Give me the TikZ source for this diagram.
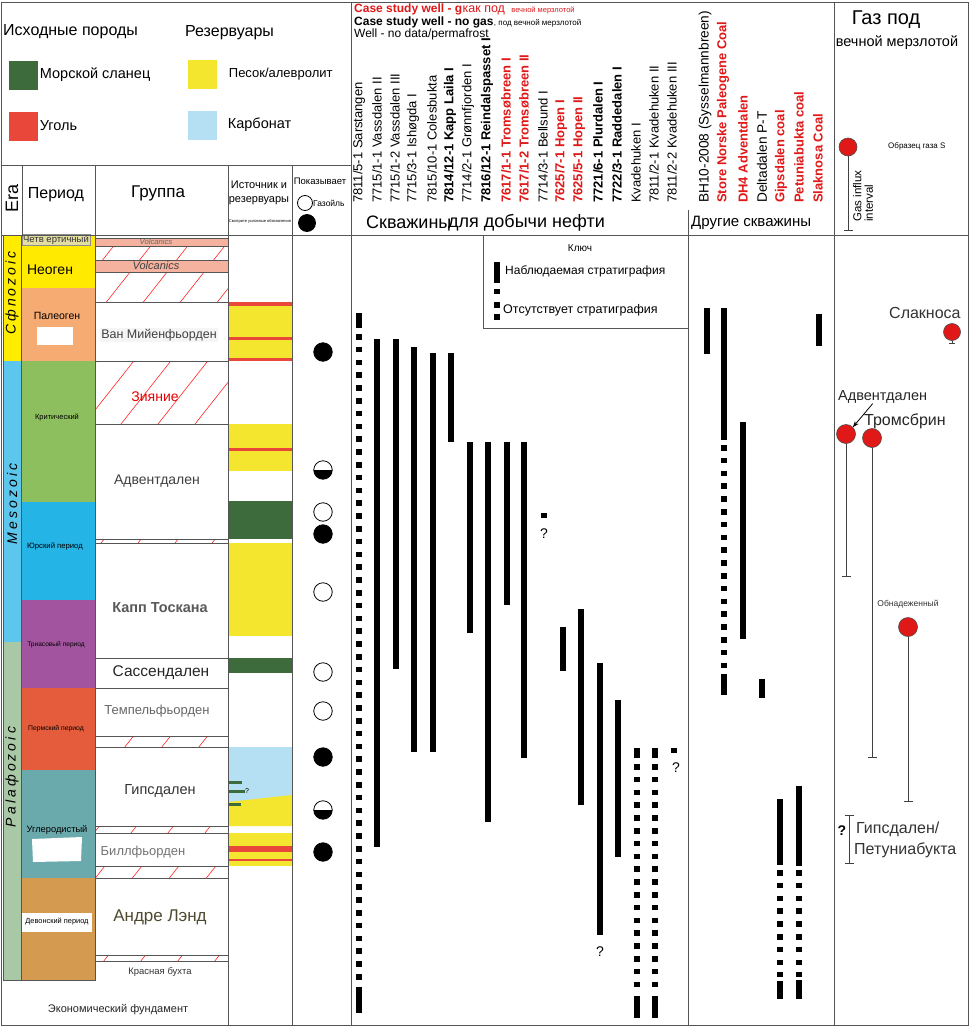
\documentclass[tikz,border=0pt]{standalone}
\usepackage{fontspec}
\setmainfont{Liberation Sans}
\newfontfamily\erafont[LetterSpace=22]{Liberation Sans}
\usetikzlibrary{positioning,arrows.meta}
\newcommand\fsz[1]{\fontsize{#1}{#1}\selectfont}
\definecolor{shale}{HTML}{3E6B3C}
\definecolor{coal}{HTML}{E8473A}
\definecolor{sand}{HTML}{F4E62E}
\definecolor{carb}{HTML}{B5DFF3}
\definecolor{gasred}{HTML}{E01818}
\definecolor{framegray}{HTML}{555555}
\definecolor{volc}{HTML}{F5B39F}
\definecolor{cenoz}{HTML}{FFEC00}
\definecolor{mesoz}{HTML}{5CC6EC}
\definecolor{palaeoz}{HTML}{A9C8A5}
\definecolor{quat}{HTML}{E3DDA2}
\definecolor{neog}{HTML}{FFEA00}
\definecolor{paleog}{HTML}{F5AB72}
\definecolor{cret}{HTML}{8DBF5E}
\definecolor{jur}{HTML}{25B4E6}
\definecolor{trias}{HTML}{A2559E}
\definecolor{perm}{HTML}{E55C3C}
\definecolor{carbon}{HTML}{6AAAAD}
\definecolor{devon}{HTML}{D49B50}
\tikzset{
frame/.style={draw=framegray,line width=0.9pt},
grpbox/.style={draw=framegray,line width=0.7pt},
hatch/.style={draw=red!85!white,line width=0.6pt},
obs/.style={line width=6pt},
nodata/.style={line width=6pt,dash pattern=on 5.5pt off 7.3pt},
lbl/.style={inner sep=0pt},
legbox/.style={minimum size=29pt,inner sep=0pt},
wname/.style={rotate=90,anchor=west,inner sep=0pt,font=\fsz{13}},
wbold/.style={wname,font=\fsz{13}\bfseries},
wcase/.style={wbold,text=gasred},
oname/.style={wname,font=\fsz{13.7}},
shows/.style={circle,draw=black,line width=0.8pt,minimum size=18.5pt,inner sep=0pt},
halfshow/.style={shows,path picture={\fill[black] (path picture bounding box.west) rectangle (path picture bounding box.south east);}},
gas/.style={circle,draw=black!70,fill=gasred,line width=0.6pt,minimum size=19pt,inner sep=0pt},
stem/.style={draw=black!75,line width=0.8pt,-{Bar[width=9pt,line width=0.8pt]}}
}
\newcommand\hatchband[2]{%
\begin{scope}
\clip (95,#1) rectangle (228,#2);
\foreach \k in {12,49,...,1200} \draw[hatch] (\k,0) -- ++(-790,1000);
\end{scope}
\draw[grpbox] (95,#1) rectangle (228,#2);}

\begin{document}
\begin{tikzpicture}[x=1pt,y=-1pt]
\useasboundingbox[fill=white] (0,0) rectangle (969,1028);

% legend
\node[lbl,anchor=west,font=\fsz{16}] (srcHead) at (3,32) {Исходные породы};
\node[lbl,anchor=west,font=\fsz{16}] (resHead) at (185,33) {Резервуары};
\node[legbox,fill=shale] (kShale) at (23,75) {};
\node[legbox,fill=coal] (kCoal) at (23,126) {};
\node[legbox,fill=sand] (kSand) at (202,74) {};
\node[legbox,fill=carb] (kCarb) at (202,125) {};
\node[lbl,font=\fsz{14.5},right=2pt of kShale] (tShale) {Морской сланец};
\node[lbl,font=\fsz{14.5},right=2pt of kCoal] (tCoal) {Уголь};
\node[lbl,font=\fsz{13},right=12pt of kSand] (tSand) {Песок/алевролит};
\node[lbl,font=\fsz{14.5},right=11pt of kCarb] (tCarb) {Карбонат};

% column heads
\node[lbl,rotate=90,font=\fsz{18}] (hEra) at (12,198) {Era};
\node[lbl,font=\fsz{16}] (hPer) at (56,195) {Период};
\node[lbl,font=\fsz{17}] (hGrp) at (158,193) {Группа};
\node[lbl,font=\fsz{11},align=center] (hSrc) at (259,193) {Источник и\\[3pt]резервуары};
\node[lbl,font=\fsz{4}] (hSrcNote) at (260,221) {Смотрите условные обозначения};
\node[lbl,font=\fsz{9.5}] (hShow) at (320,181) {Показывает};
\node[shows,minimum size=15pt] (kOil) at (305,203) {};
\node[lbl,font=\fsz{8.5},anchor=west] (tOil) at (313,203) {Газойль};
\node[shows,fill=black,minimum size=17pt] (kGas) at (307,223) {};

% era bars
\fill[cenoz] (3,235) rectangle (21,361);
\fill[mesoz] (3,361) rectangle (21,642);
\fill[palaeoz] (3,642) rectangle (21,980);
\draw[frame] (3,235) rectangle (21,980);
\node[lbl,rotate=90,font=\fsz{14}\erafont\itshape] (eCen) at (12,293) {Cфnozoic};
\node[lbl,rotate=90,font=\fsz{14}\erafont\itshape] (eMes) at (12,504) {Mesozoic};
\node[lbl,rotate=90,font=\fsz{14}\erafont\itshape] (ePal) at (12,777) {Palaфozoic};

% periods
\fill[neog] (21,235) rectangle (95,288);
\fill[paleog] (21,288) rectangle (95,361);
\fill[cret] (21,361) rectangle (95,502);
\fill[jur] (21,502) rectangle (95,600);
\fill[trias] (21,600) rectangle (95,688);
\fill[perm] (21,688) rectangle (95,770);
\fill[carbon] (21,770) rectangle (95,878);
\fill[devon] (21,878) rectangle (95,980);
\fill[white] (37,327) rectangle (73,345);
\fill[white] (32,839) -- (82,837) -- (81,861) -- (33,862) -- cycle;
\draw[frame] (21,235) rectangle (95,980);
\node[draw=black!45,fill=quat,inner sep=0pt,minimum width=68pt,minimum height=11pt,font=\fsz{9.5},text=black!80] (pQua) at (56,240) {Четв ертичный};
\node[lbl,font=\fsz{14}] (pNeo) at (50,270) {Неоген};
\node[lbl,font=\fsz{10.5}] (pPal) at (57,316) {Палеоген};
\node[lbl,font=\fsz{7.5}] (pCre) at (57,417) {Критический};
\node[lbl,font=\fsz{7.7}] (pJur) at (55,546) {Юрский период};
\node[lbl,font=\fsz{6.6}] (pTri) at (56,645) {Триасовый период};
\node[lbl,font=\fsz{6.8}] (pPer) at (56,729) {Пермский период};
\node[lbl,font=\fsz{9.3}] (pCar) at (57,830) {Углеродистый};
\node[fill=white,inner sep=0pt,minimum width=70pt,minimum height=19pt,font=\fsz{7.4}] (pDev) at (57,922) {Девонский период};

% groups
\fill[volc] (95,238) rectangle (228,246);
\draw[grpbox] (95,238) rectangle (228,246);
\hatchband{246}{260}
\fill[volc] (95,260) rectangle (228,272);
\draw[grpbox] (95,260) rectangle (228,272);
\hatchband{272}{302}
\draw[grpbox] (95,302) rectangle (228,361);
\hatchband{361}{424}
\draw[grpbox] (95,424) rectangle (228,539);
\hatchband{539}{543}
\draw[grpbox] (95,543) rectangle (228,658);
\draw[grpbox] (95,658) rectangle (228,688);
\draw[grpbox] (95,688) rectangle (228,736);
\hatchband{736}{747}
\draw[grpbox] (95,747) rectangle (228,826);
\hatchband{826}{833}
\draw[grpbox] (95,833) rectangle (228,866);
\hatchband{866}{878}
\draw[grpbox] (95,878) rectangle (228,955);
\hatchband{955}{961}
\node[lbl,font=\fsz{7.7}\itshape,text=black!60] (gVol1) at (156,242) {Volcanics};
\node[lbl,font=\fsz{11}\itshape,text=black!75] (gVol2) at (156,266) {Volcanics};
\node[fill=black!4,inner sep=1pt,font=\fsz{12.5},text=black!75] (gVan) at (159,335) {Ван Мийенфьорден};
\node[lbl,font=\fsz{14},text=red!90!black] (gGap) at (155,397) {Зияние};
\node[lbl,font=\fsz{14},text=black!75] (gAdv) at (157,481) {Адвентдален};
\node[lbl,font=\fsz{14.5}\bfseries,text=black!65] (gKap) at (160,608) {Капп Тоскана};
\node[lbl,font=\fsz{15.5},text=black!85] (gSas) at (161,673) {Сассендален};
\node[lbl,font=\fsz{13},text=black!60] (gTem) at (157,711) {Темпельфьорден};
\node[lbl,font=\fsz{14.5},text=black!80] (gGip) at (160,791) {Гипсдален};
\node[lbl,font=\fsz{13},text=black!55] (gBil) at (143,852) {Биллфьорден};
\node[lbl,font=\fsz{17},text=black!60!olive] (gAnd) at (160,917) {Андре Лэнд};
\node[lbl,font=\fsz{9.5},text=black!80] (gRed) at (160,972) {Красная бухта};
\node[lbl,font=\fsz{11},text=black!85] (gBase) at (118,1010) {Экономический фундамент};

% source and reservoir
\fill[sand] (228,302) rectangle (292,361);
\fill[coal] (228,302) rectangle (292,305.5);
\fill[coal] (228,336.5) rectangle (292,340);
\fill[coal] (228,357.5) rectangle (292,361);
\fill[sand] (228,424) rectangle (292,471);
\fill[coal] (228,447.5) rectangle (292,451);
\fill[shale] (228,501) rectangle (292,539);
\fill[sand] (228,543) rectangle (292,636);
\fill[shale] (228,658) rectangle (292,673);
\fill[carb] (228,747) rectangle (292,802);
\fill[sand] (228,802) -- (292,795) -- (292,826) -- (228,826) -- cycle;
\fill[shale] (228,780.5) rectangle (242,783.5);
\fill[shale] (228,790) rectangle (245,793);
\fill[shale] (228,802.5) rectangle (241,805.5);
\node[lbl,font=\fsz{7}] (qSrc) at (247,791) {?};
\fill[sand] (228,833) rectangle (292,866);
\fill[coal] (228,846) rectangle (292,852);
\fill[coal] (228,858.5) rectangle (292,861);

% shows
\node[shows,fill=black] (sh1) at (323,352) {};
\node[halfshow] (sh2) at (323,470) {};
\node[shows] (sh3) at (323,512) {};
\node[shows,fill=black] (sh4) at (323,534) {};
\node[shows] (sh5) at (323,592) {};
\node[shows] (sh6) at (323,672) {};
\node[shows] (sh7) at (323,711) {};
\node[shows,fill=black] (sh8) at (323,757) {};
\node[halfshow] (sh9) at (323,810) {};
\node[shows,fill=black] (sh10) at (323,852) {};

% frame
\draw[frame] (1,2) rectangle (968,1025);
\draw[frame] (1,165) -- (351,165);
\draw[frame] (1,235) -- (968,235);
\draw[frame] (22,165) -- (22,235);
\draw[frame] (95,165) -- (95,235);
\draw[frame] (228,165) -- (228,1025);
\draw[frame] (292,165) -- (292,1025);
\draw[frame] (351,2) -- (351,1025);
\draw[frame] (688,210) -- (688,1025);
\draw[frame] (834,2) -- (834,1025);

% well key
\node[lbl,anchor=west,font=\fsz{12}\bfseries,text=gasred] (lCase) at (354,9) {Case study well - g};
\node[lbl,anchor=base west,font=\fsz{12.5},text=gasred] (lCaseB) at (lCase.base east) {как под};
\node[lbl,anchor=base west,font=\fsz{7.5},text=gasred] (lCaseC) at ([xshift=6pt]lCaseB.base east) {вечной мерзлотой};
\node[lbl,anchor=west,font=\fsz{12}\bfseries] (lNoGas) at (354,22) {Case study well - no gas};
\node[lbl,anchor=base west,font=\fsz{8}] (lNoGasB) at (lNoGas.base east) {, под вечной мерзлотой};
\node[lbl,anchor=west,font=\fsz{12}] (lNoData) at (354,34) {Well - no data/permafrost};

% production wells
\node[wname] (w1) at (359,203) {7811/5-1 Sarstangen};
\node[wname] (w2) at (377,203) {7715/1-1 Vassdalen II};
\node[wname] (w3) at (395,203) {7715/1-2 Vassdalen III};
\node[wname] (w4) at (413,203) {7715/3-1 Ishøgda I};
\node[wname] (w5) at (432,203) {7815/10-1 Colesbukta};
\node[wbold] (w6) at (450,203) {7814/12-1 Kapp Laila I};
\node[wname] (w7) at (468,203) {7714/2-1 Grønnfjorden I};
\node[wbold] (w8) at (487,203) {7816/12-1 Reindalspasset I};
\node[wcase] (w9) at (506,203) {7617/1-1 Tromsøbreen I};
\node[wcase] (w10) at (524,203) {7617/1-2 Tromsøbreen II};
\node[wname] (w11) at (543,203) {7714/3-1 Bellsund I};
\node[wcase] (w12) at (561,203) {7625/7-1 Hopen I};
\node[wcase] (w13) at (579,203) {7625/5-1 Hopen II};
\node[wbold] (w14) at (598,203) {7721/6-1 Plurdalen I};
\node[wbold] (w15) at (617,203) {7722/3-1 Raddedalen I};
\node[wname] (w16) at (636,203) {Kvadehuken I};
\node[wname] (w17) at (654,203) {7811/2-1 Kvadehuken II};
\node[wname] (w18) at (672,203) {7811/2-2 Kvadehuken III};
\node[lbl,anchor=west,font=\fsz{18}] (hProd) at (366,222) {Скважины};
\node[lbl,anchor=west,font=\fsz{18}] (hProdB) at (448,223) {для добычи нефти};

% other wells
\node[oname] (o1) at (705,203) {BH10-2008 (Sysselmannbreen)};
\node[wcase] (o2) at (723,203) {Store Norske Paleogene Coal};
\node[wcase] (o3) at (743,203) {DH4 Adventdalen};
\node[oname] (o4) at (762,203) {Deltadalen P-T};
\node[wcase] (o5) at (781,203) {Gipsdalen coal};
\node[wcase] (o6) at (799,203) {Petuniabukta coal};
\node[wcase] (o7) at (818,203) {Slaknosa Coal};
\node[lbl,anchor=west,font=\fsz{15}] (hOth) at (691,223) {Другие скважины};

% key box
\draw[frame] (483,235) rectangle (688,328);
\node[lbl,font=\fsz{10}] (kKey) at (580,248) {Ключ};
\draw[obs] (497,262) -- (497,283);
\draw[obs] (497,289) -- (497,294);
\draw[obs] (497,302) -- (497,308);
\draw[obs] (497,314) -- (497,320);
\node[lbl,anchor=west,font=\fsz{12}] (kObs) at (505,271) {Наблюдаемая стратиграфия};
\node[lbl,anchor=west,font=\fsz{12.5}] (kMiss) at (503,310) {Отсутствует стратиграфия};

% stratigraphy bars
\draw[obs] (359,313) -- (359,328);
\draw[nodata] (359,334) -- (359,988);
\draw[obs] (359,988) -- (359,1013);
\draw[obs] (377,339) -- (377,847);
\draw[obs] (396,339) -- (396,669);
\draw[obs] (414,347) -- (414,752);
\draw[obs] (433,353) -- (433,752);
\draw[obs] (451,353) -- (451,442);
\draw[obs] (470,442) -- (470,633);
\draw[obs] (488,442) -- (488,822);
\draw[obs] (507,442) -- (507,605);
\draw[obs] (524,442) -- (524,758);
\draw[obs] (544,513) -- (544,518);
\node[lbl,font=\fsz{14}] (q11) at (544,534) {?};
\draw[obs] (563,627) -- (563,671);
\draw[obs] (581,609) -- (581,805);
\draw[obs] (600,663) -- (600,935);
\node[lbl,font=\fsz{14}] (q14) at (600,952) {?};
\draw[obs] (618,700) -- (618,857);
\draw[obs] (637,748) -- (637,758);
\draw[nodata] (637,764) -- (637,990);
\draw[obs] (637,996) -- (637,1018);
\draw[obs] (655,748) -- (655,758);
\draw[nodata] (655,764) -- (655,990);
\draw[obs] (655,996) -- (655,1018);
\draw[obs] (674,748) -- (674,753);
\node[lbl,font=\fsz{14}] (q18) at (676,768) {?};

\draw[obs] (707,308) -- (707,354);
\draw[obs] (724,308) -- (724,440);
\draw[nodata] (724,445) -- (724,668);
\draw[obs] (724,674) -- (724,695);
\draw[obs] (743,422) -- (743,639);
\draw[obs] (762,679) -- (762,698);
\draw[obs] (780,799) -- (780,865);
\draw[nodata] (780,870) -- (780,977);
\draw[obs] (780,981) -- (780,999);
\draw[obs] (799,786) -- (799,866);
\draw[nodata] (799,870) -- (799,977);
\draw[obs] (799,980) -- (799,999);
\draw[obs] (819,314) -- (819,346);

% gas below permafrost
\node[lbl,font=\fsz{20}] (hGas) at (886,20) {Газ под};
\node[lbl,font=\fsz{14.5}] (hGasB) at (897,43) {вечной мерзлотой};
\node[gas,minimum size=18pt] (gS) at (848,147) {};
\coordinate (gSend) at (848,231);
\draw[stem] (gS) -- (gSend);
\node[lbl,anchor=west,font=\fsz{8}] (tS) at (888,146) {Образец газа S};
\node[lbl,rotate=90,anchor=west,align=left,font=\fsz{11.5}] (tInt) at (863,222) {Gas influx\\interval};

\node[fill=white,inner sep=2pt,anchor=west,font=\fsz{16},text=black!80] (lSlak) at (887,313) {Слакноса};
\node[gas,minimum size=17pt] (gSlak) at (952,332) {};
\coordinate (gSlakEnd) at (952,344);
\draw[stem,-{Bar[width=6pt,line width=0.8pt]}] (gSlak) -- (gSlakEnd);

\node[lbl,anchor=west,font=\fsz{14.5},text=black!85] (lAdv) at (838,397) {Адвентдален};
\node[gas] (gAdv) at (846,434) {};
\coordinate (gAdvEnd) at (846,577);
\draw[stem] (gAdv) -- (gAdvEnd);
\draw[-{Stealth[length=6pt]},line width=0.8pt] ([xshift=-10pt]lAdv.south) -- (gAdv.north east);

\node[lbl,anchor=west,font=\fsz{16},text=black!85] (lTro) at (864,421) {Тромсбрин};
\node[gas] (gTro) at (872,438) {};
\coordinate (gTroEnd) at (872,758);
\draw[stem] (gTro) -- (gTroEnd);

\node[lbl,font=\fsz{8.5},text=black!80] (lObn) at (908,604) {Обнадеженный};
\node[gas] (gObn) at (908,627) {};
\coordinate (gObnEnd) at (908,802);
\draw[stem] (gObn) -- (gObnEnd);

\coordinate (gGipTop) at (849,815);
\coordinate (gGipBot) at (849,864);
\draw[draw=black!75,line width=0.8pt,{Bar[width=9pt,line width=0.8pt]}-{Bar[width=9pt,line width=0.8pt]}] (gGipTop) -- (gGipBot);
\node[lbl,font=\fsz{14}\bfseries] (qGip) at (842,831) {?};
\node[lbl,anchor=west,font=\fsz{16},text=black!80] (lGip) at (856,829) {Гипсдален/};
\node[lbl,anchor=west,font=\fsz{16},text=black!80] (lPet) at (854,850) {Петуниабукта};
\end{tikzpicture}
\end{document}
